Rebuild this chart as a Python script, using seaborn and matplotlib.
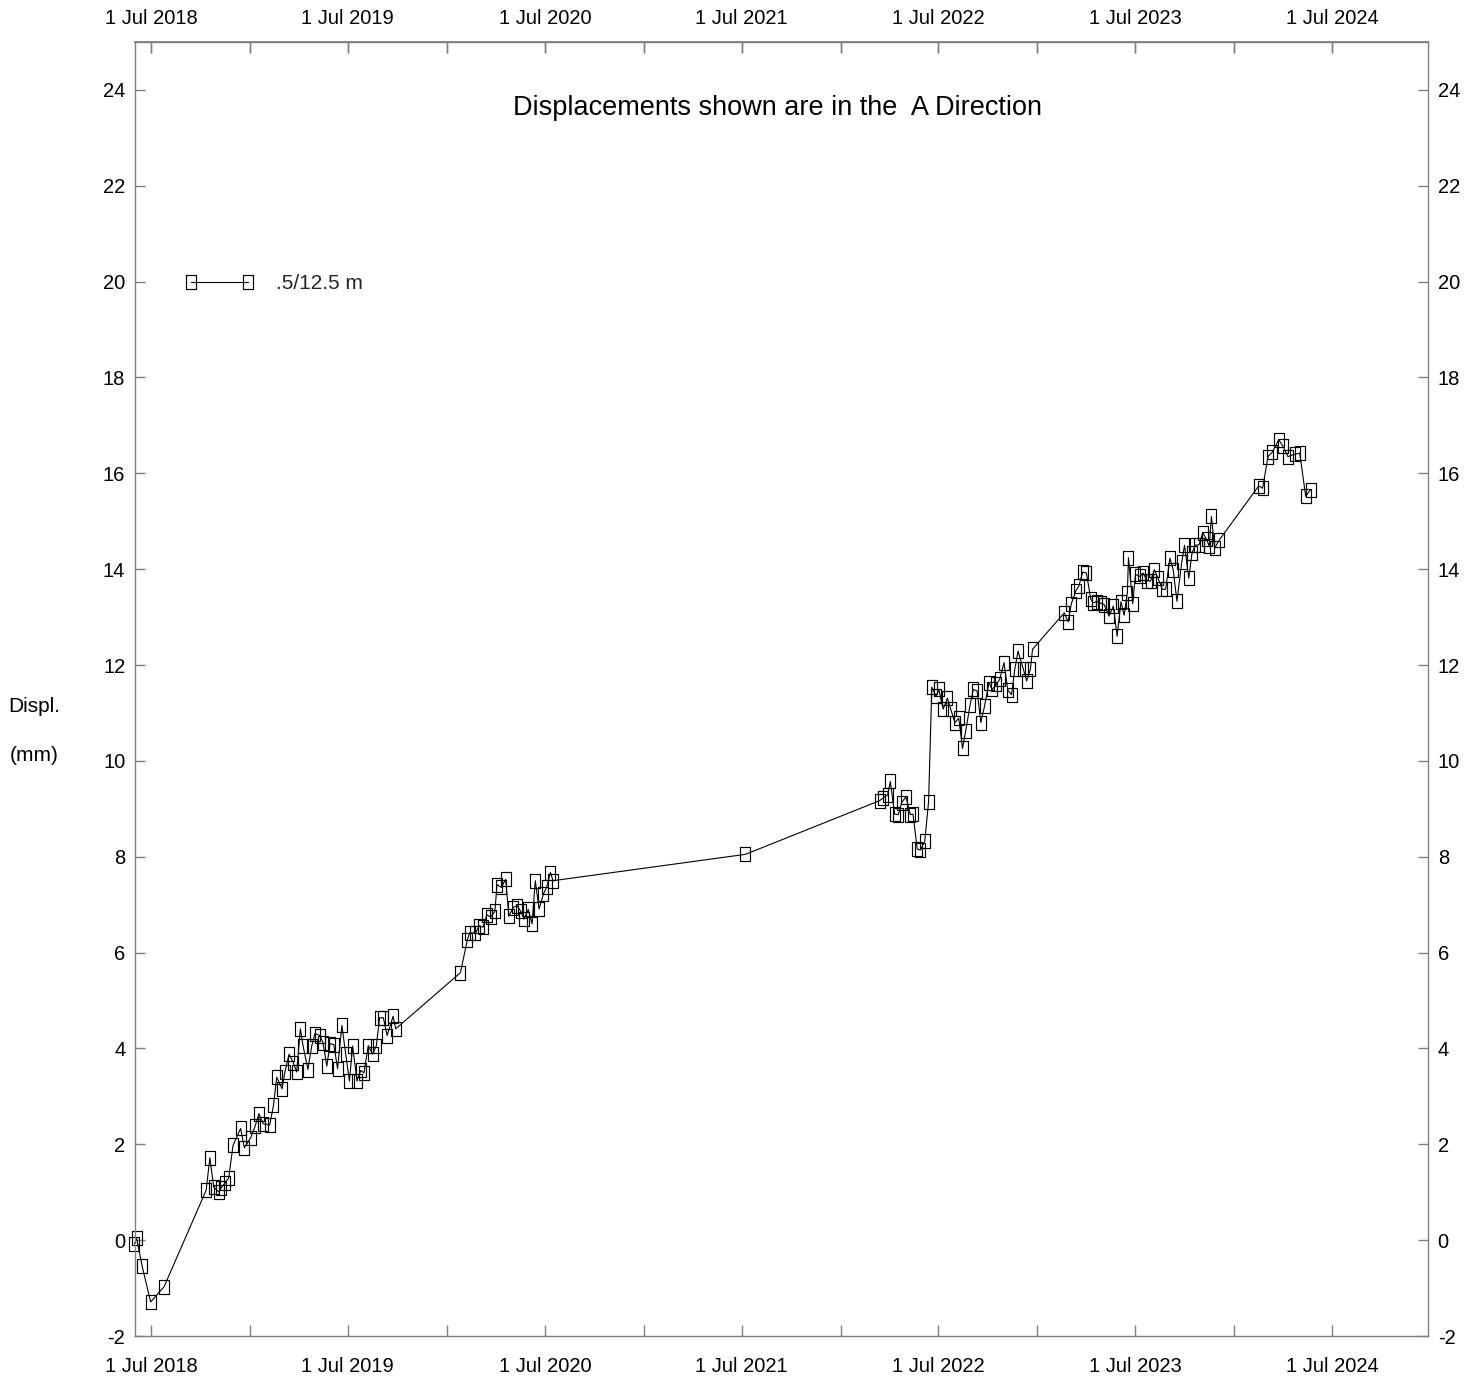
import matplotlib
matplotlib.use("Agg")
import matplotlib.pyplot as plt
import matplotlib.dates as mdates
import seaborn as sns
import pandas as pd

# ---------------- data ----------------
dates = [
    "2018-05-31", "2018-06-04", "2018-06-14", "2018-06-30", "2018-07-25",
    "2018-10-11", "2018-10-18", "2018-10-25", "2018-11-04", "2018-11-07",
    "2018-11-15", "2018-11-22", "2018-11-30", "2018-12-14", "2018-12-21",
    "2019-01-02", "2019-01-10", "2019-01-17", "2019-01-25", "2019-02-06",
    "2019-02-13", "2019-02-19", "2019-03-01", "2019-03-06", "2019-03-14",
    "2019-03-22", "2019-03-28", "2019-04-04", "2019-04-09", "2019-04-18",
    "2019-04-25", "2019-05-01", "2019-05-10", "2019-05-16", "2019-05-23",
    "2019-05-29", "2019-06-05", "2019-06-12", "2019-06-20", "2019-06-27",
    "2019-07-04", "2019-07-10", "2019-07-18", "2019-07-25", "2019-07-31",
    "2019-08-08", "2019-08-16", "2019-08-23", "2019-08-29", "2019-09-05",
    "2019-09-12", "2019-09-23", "2019-09-28",
    "2020-01-26", "2020-02-08", "2020-02-12", "2020-02-23", "2020-03-01",
    "2020-03-08", "2020-03-15", "2020-03-22", "2020-03-30", "2020-04-03",
    "2020-04-11", "2020-04-19", "2020-04-25", "2020-05-03", "2020-05-10",
    "2020-05-17", "2020-05-23", "2020-05-31", "2020-06-07", "2020-06-13",
    "2020-06-20", "2020-06-28", "2020-07-04", "2020-07-11", "2020-07-16",
    "2021-07-08",
    "2022-03-14", "2022-03-20", "2022-03-29", "2022-04-03", "2022-04-11",
    "2022-04-18", "2022-04-24", "2022-05-02", "2022-05-10", "2022-05-15",
    "2022-05-23", "2022-05-29", "2022-06-06", "2022-06-13", "2022-06-19",
    "2022-06-27", "2022-07-02", "2022-07-10", "2022-07-18", "2022-07-24",
    "2022-08-01", "2022-08-08", "2022-08-15", "2022-08-21", "2022-08-29",
    "2022-09-04", "2022-09-11", "2022-09-18", "2022-09-25", "2022-10-03",
    "2022-10-09", "2022-10-17", "2022-10-23", "2022-10-31", "2022-11-07",
    "2022-11-14", "2022-11-20", "2022-11-26", "2022-12-06", "2022-12-12",
    "2022-12-19", "2022-12-23",
    "2023-02-20", "2023-02-27", "2023-03-05", "2023-03-13", "2023-03-19",
    "2023-03-26", "2023-04-02", "2023-04-10", "2023-04-14", "2023-04-22",
    "2023-04-29", "2023-05-05", "2023-05-14", "2023-05-22", "2023-05-29",
    "2023-06-05", "2023-06-11", "2023-06-17", "2023-06-19", "2023-06-27",
    "2023-07-02", "2023-07-10", "2023-07-16", "2023-07-24", "2023-07-30",
    "2023-08-06", "2023-08-13", "2023-08-21", "2023-08-27", "2023-09-04",
    "2023-09-10", "2023-09-17", "2023-09-26", "2023-10-01", "2023-10-09",
    "2023-10-15", "2023-10-21", "2023-10-28", "2023-11-04", "2023-11-11",
    "2023-11-16", "2023-11-20", "2023-11-26", "2023-12-04",
    "2024-02-16", "2024-02-23", "2024-03-04", "2024-03-12", "2024-03-24",
    "2024-03-31", "2024-04-10", "2024-04-23", "2024-05-02", "2024-05-13",
    "2024-05-22",
]
displ = [
    -0.07, 0.04, -0.53, -1.29, -0.97,
    1.04, 1.72, 1.11, 1.00, 1.08,
    1.19, 1.30, 1.98, 2.33, 1.93,
    2.14, 2.38, 2.64, 2.43, 2.40,
    2.81, 3.40, 3.16, 3.50, 3.88,
    3.70, 3.51, 4.41, 4.05, 3.56,
    4.05, 4.31, 4.27, 4.12, 3.63,
    4.10, 4.08, 3.58, 4.48, 3.89,
    3.32, 4.05, 3.32, 3.54, 3.49,
    4.06, 3.88, 4.06, 4.64, 4.64,
    4.27, 4.67, 4.41,
    5.58, 6.27, 6.41, 6.41, 6.56,
    6.53, 6.79, 6.74, 6.86, 7.42,
    7.36, 7.53, 6.76, 6.94, 6.98,
    6.86, 6.70, 6.90, 6.60, 7.50,
    6.91, 7.22, 7.36, 7.67, 7.50,
    8.05,
    9.17, 9.22, 9.29, 9.57, 8.89,
    8.88, 9.13, 9.25, 8.88, 8.89,
    8.16, 8.14, 8.33, 9.15, 11.54,
    11.35, 11.49, 11.08, 11.31, 11.08,
    10.80, 10.89, 10.26, 10.63, 11.17,
    11.49, 11.46, 10.80, 11.15, 11.63,
    11.49, 11.60, 11.70, 12.05, 11.48,
    11.38, 11.91, 12.29, 11.91, 11.67,
    11.91, 12.33,
    13.09, 12.90, 13.28, 13.54, 13.65,
    13.94, 13.92, 13.38, 13.30, 13.32,
    13.29, 13.26, 13.02, 13.23, 12.60,
    13.32, 13.04, 13.51, 14.24, 13.28,
    13.89, 13.85, 13.92, 13.76, 13.75,
    13.99, 13.81, 13.58, 13.58, 14.23,
    13.99, 13.33, 14.15, 14.50, 13.81,
    14.34, 14.50, 14.51, 14.76, 14.62,
    14.48, 15.10, 14.44, 14.60,
    15.74, 15.69, 16.35, 16.44, 16.70,
    16.58, 16.35, 16.40, 16.42, 15.52,
    15.66,
]
series_label = ".5/12.5 m"
title_text = "Displacements shown are in the  A Direction"
y_ticks = list(range(-2, 25, 2))
x_limits = ("2018-06-01", "2024-12-26")
y_limits = (-2, 25)

df = pd.DataFrame({"date": pd.to_datetime(dates), "displ": displ})

# ---------------- style ----------------
sns.set_theme(style="white")
plt.rcParams["font.family"] = ["Liberation Sans", "DejaVu Sans"]
GREY = "#808080"
TICK_FS = 14.5

fig = plt.figure(figsize=(14.76, 13.80), dpi=100)
ax = fig.add_axes([135 / 1476, 1 - 1336 / 1380, (1428 - 135) / 1476, (1336 - 42) / 1380])

# tall open rectangle marker
rect = [(-0.37, -0.5), (0.37, -0.5), (0.37, 0.5), (-0.37, 0.5), (-0.37, -0.5)]

sns.lineplot(data=df, x="date", y="displ", ax=ax, estimator=None, sort=False,
             color="black", linewidth=0.8, marker=rect, markersize=10,
             markerfacecolor="none", markeredgecolor="black",
             markeredgewidth=0.85, label=series_label, clip_on=False)

ax.set_xlim(pd.Timestamp(x_limits[0]), pd.Timestamp(x_limits[1]))
ax.set_ylim(*y_limits)
ax.set_yticks(y_ticks)
ax.set_yticklabels([str(v) for v in y_ticks])

ax.xaxis.set_major_locator(mdates.MonthLocator(bymonth=[7], bymonthday=1))
ax.xaxis.set_minor_locator(mdates.MonthLocator(bymonth=[1], bymonthday=1))
ax.xaxis.set_major_formatter(mdates.DateFormatter("1 Jul %Y"))

ax.set_xlabel("")
ax.set_ylabel("")

for sp in ax.spines.values():
    sp.set_color(GREY)
    sp.set_linewidth(1.0)
    sp.set_visible(True)

ax.tick_params(axis="x", which="both", direction="in", length=8, width=1,
               color=GREY, top=True, bottom=True, labeltop=False,
               labelbottom=True, labelsize=TICK_FS, pad=15, labelcolor="black")
ax.tick_params(axis="y", which="both", direction="in", length=7, width=1,
               color=GREY, left=True, right=True, labelleft=True,
               labelright=True, labelsize=TICK_FS, pad=7, labelcolor="black")
ax.grid(False)

# top date labels with their own padding
sec = ax.secondary_xaxis("top")
sec.xaxis.set_major_locator(mdates.MonthLocator(bymonth=[7], bymonthday=1))
sec.xaxis.set_minor_locator(mdates.MonthLocator(bymonth=[1], bymonthday=1))
sec.xaxis.set_major_formatter(mdates.DateFormatter("1 Jul %Y"))
sec.tick_params(axis="x", which="both", direction="in", length=8, width=1,
                color=GREY, labelsize=TICK_FS, pad=10, labelcolor="black")
sec.spines["top"].set_color(GREY)

ax.text(0.497, 0.949, title_text, transform=ax.transAxes, ha="center",
        va="center", fontsize=19.5, color="black")

fig.text(34 / 1476, 1 - 707 / 1380, "Displ.", ha="center", va="center",
         fontsize=15, color="black")
fig.text(34 / 1476, 1 - 756 / 1380, "(mm)", ha="center", va="center",
         fontsize=15, color="black")

ax.legend(loc="center left", bbox_to_anchor=((185 - 135) / 1293, 0.813),
          frameon=False, numpoints=2, handlelength=3.34, handletextpad=1.04,
          borderpad=0, borderaxespad=0, fontsize=15)

fig.savefig("out.png", dpi=100)
